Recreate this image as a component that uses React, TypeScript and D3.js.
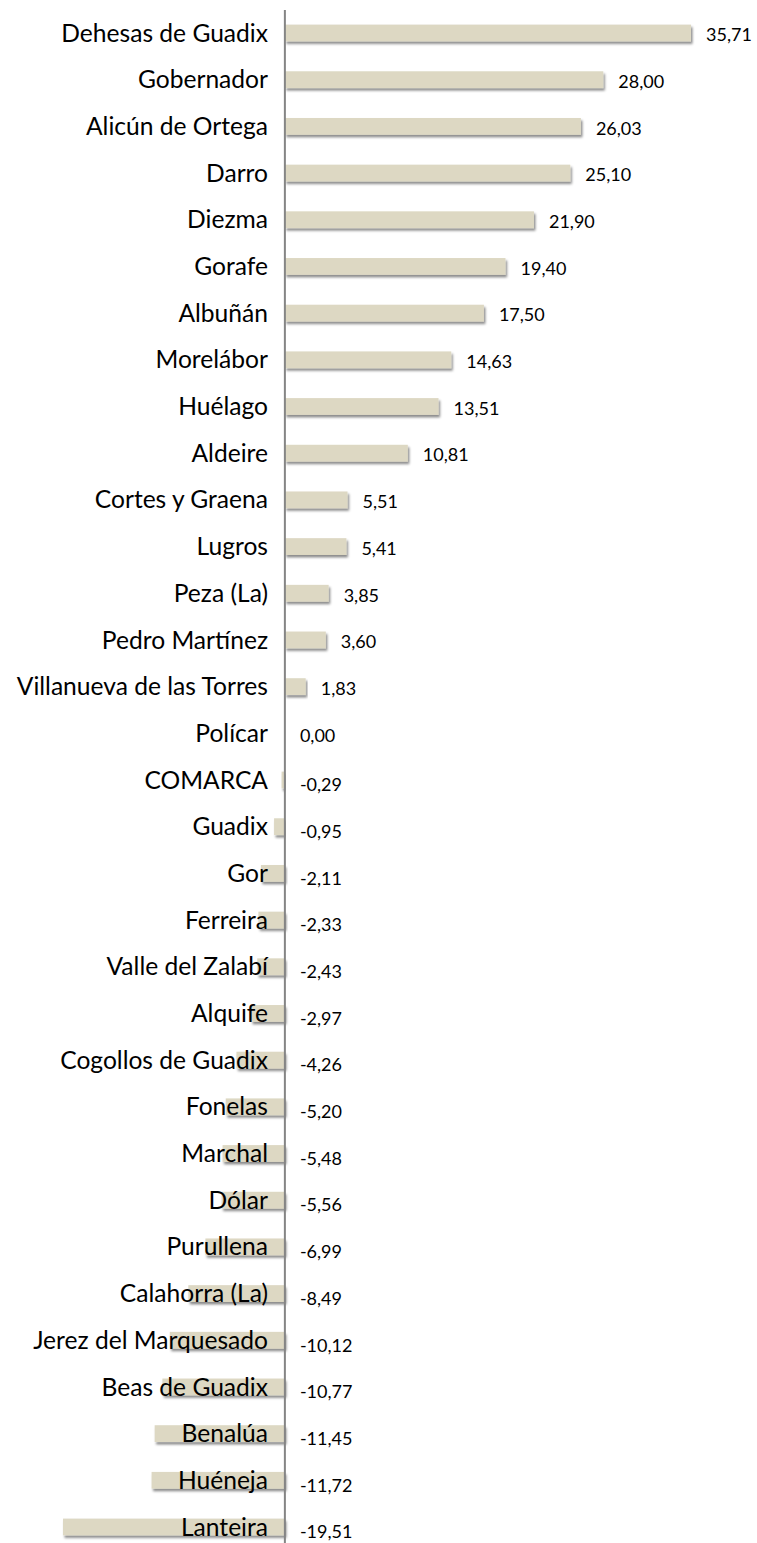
import React from "react";
import * as d3 from "d3";

const categories = [
  "Dehesas de Guadix", "Gobernador", "Alicún de Ortega", "Darro", "Diezma", "Gorafe",
  "Albuñán", "Morelábor", "Huélago", "Aldeire", "Cortes y Graena", "Lugros", "Peza (La)",
  "Pedro Martínez", "Villanueva de las Torres", "Polícar", "COMARCA", "Guadix", "Gor",
  "Ferreira", "Valle del Zalabí", "Alquife", "Cogollos de Guadix", "Fonelas", "Marchal",
  "Dólar", "Purullena", "Calahorra (La)", "Jerez del Marquesado", "Beas de Guadix",
  "Benalúa", "Huéneja", "Lanteira",
];
const values = [
  35.71, 28.0, 26.03, 25.1, 21.9, 19.4, 17.5, 14.63, 13.51, 10.81, 5.51, 5.41, 3.85, 3.6,
  1.83, 0.0, -0.29, -0.95, -2.11, -2.33, -2.43, -2.97, -4.26, -5.2, -5.48, -5.56, -6.99,
  -8.49, -10.12, -10.77, -11.45, -11.72, -19.51,
];

const W = 757;
const H = 1543;
const FONT = "Lato, 'Open Sans', sans-serif";

export default function App() {
  const x = d3.scaleLinear().domain([-19.51, 35.71]).range([63, 691]);
  const step = (1527 - 33) / (categories.length - 1);
  const y = d3
    .scaleBand<string>()
    .domain(categories)
    .range([33 - step / 2, 1527 + step / 2])
    .paddingInner(0.64)
    .paddingOuter(0.32);
  const fmt = (v: number) => v.toFixed(2).replace(".", ",");
  const x0 = x(0);
  return (
    <svg
      width={W}
      height={H}
      style={{ position: "absolute", left: 0, top: 0, background: "#fff" }}
    >
      <defs>
        <filter id="sh" x="-5%" y="-50%" width="115%" height="220%">
          <feDropShadow dx="1.5" dy="2.5" stdDeviation="1.3" floodColor="#000" floodOpacity="0.45" />
        </filter>
      </defs>
      {categories.map((c, i) => {
        const v = values[i];
        const xs = Math.min(x(v), x0);
        const w = Math.abs(x(v) - x0);
        return (
          <g key={c}>
            {w > 0.01 && (
              <rect
                x={xs}
                y={y(c)}
                width={w}
                height={y.bandwidth()}
                fill="#DDD8C3"
                filter="url(#sh)"
              />
            )}
          </g>
        );
      })}
      <line x1={x0} x2={x0} y1={10} y2={H} stroke="#858585" strokeWidth={2} />
      {categories.map((c, i) => {
        const v = values[i];
        const cy = (y(c) as number) + y.bandwidth() / 2;
        const lx = v > 0 ? x(v) + 15 : x0 + 15;
        return (
          <g key={"t" + c}>
            <text
              x={268}
              y={cy}
              dy="0.35em"
              textAnchor="end"
              fontFamily={FONT}
              fontSize={24.6}
              fill="#000"
            >
              {c}
            </text>
            <text
              x={lx}
              y={cy + (v < 0 ? 5 : 2)}
              dy="0.35em"
              fontFamily={FONT}
              fontSize={18}
              fill="#000"
            >
              {fmt(v)}
            </text>
          </g>
        );
      })}
    </svg>
  );
}
